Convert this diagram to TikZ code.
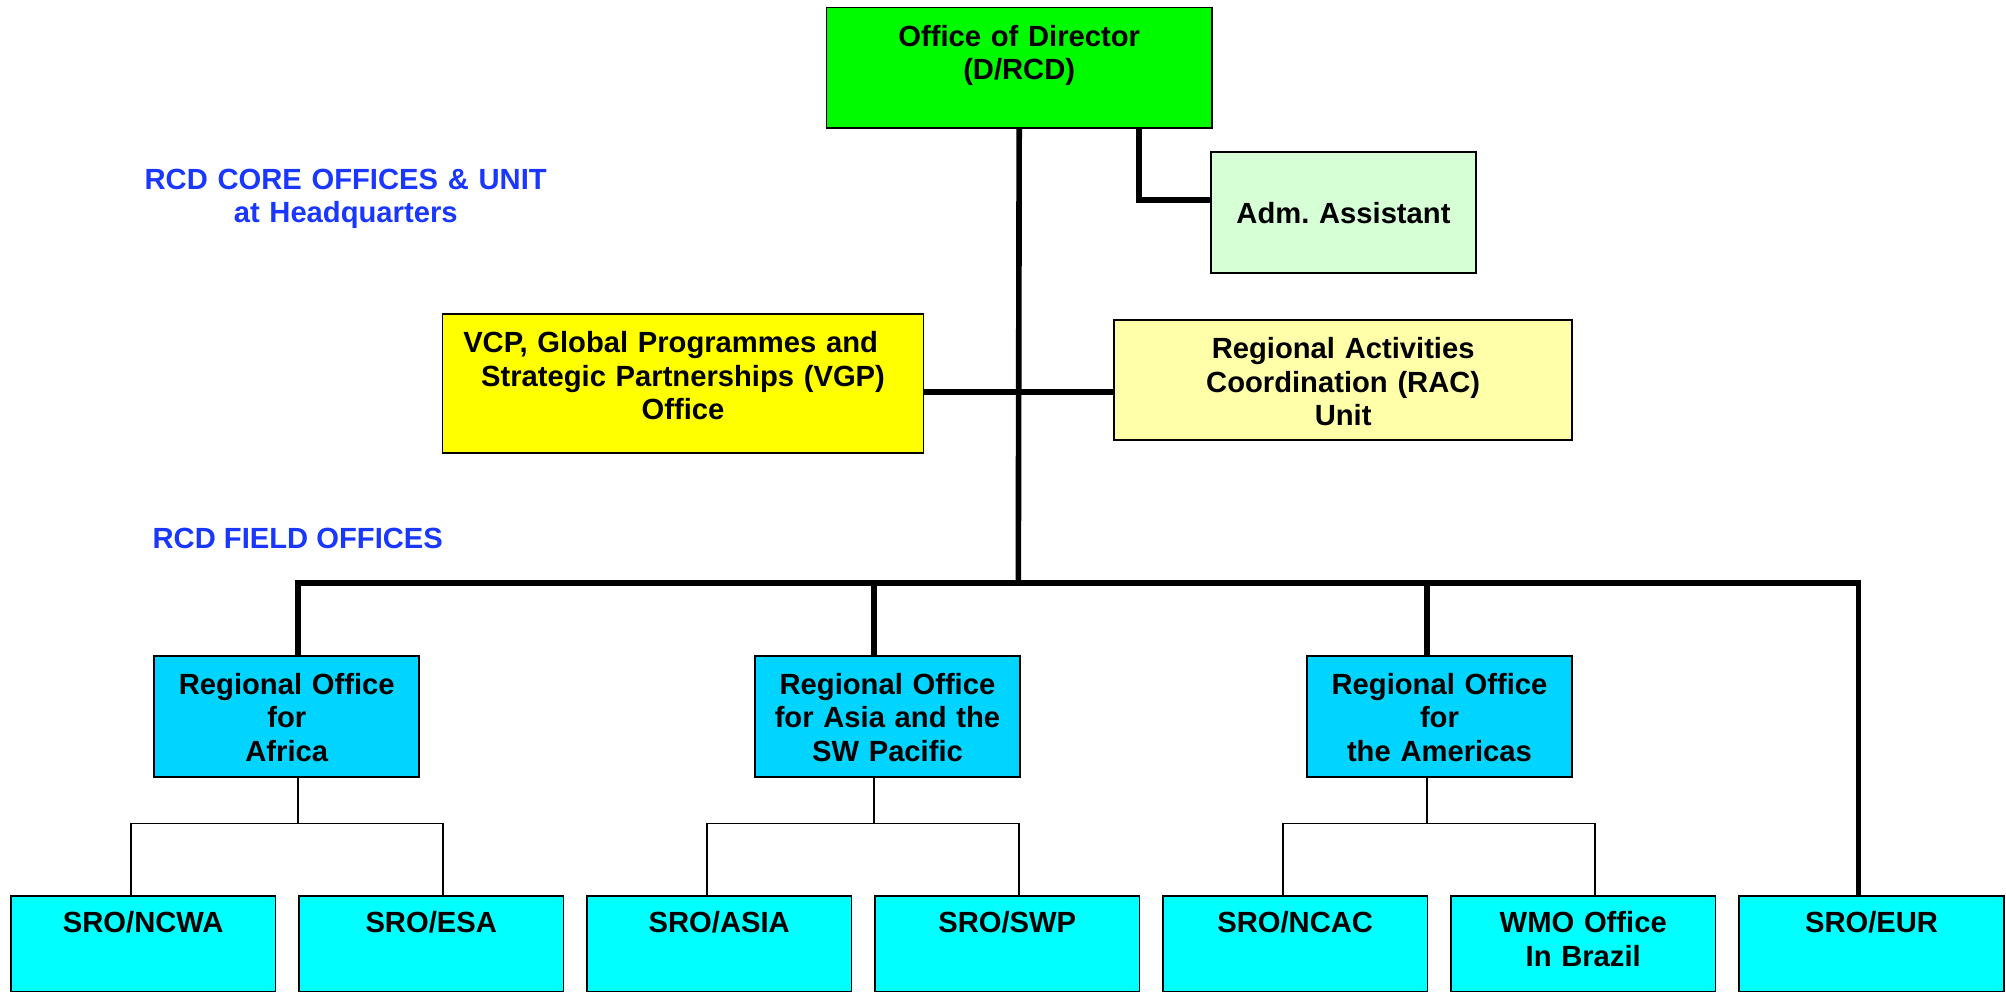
\documentclass[tikz,border=0pt]{standalone}
\usepackage{fontspec}
\setmainfont{Liberation Sans}
\usepackage{tikz}
\definecolor{dirgreen}{RGB}{0,250,0}
\definecolor{admgreen}{RGB}{214,255,214}
\definecolor{vgpyellow}{RGB}{255,255,0}
\definecolor{racyellow}{RGB}{255,255,170}
\definecolor{regcyan}{RGB}{0,212,255}
\definecolor{srocyan}{RGB}{0,255,255}
\definecolor{rcdblue}{RGB}{25,55,255}
\newcommand{\orgfont}{\fontsize{8.3}{9.5}\selectfont\bfseries\frenchspacing}
\tikzset{
  orgbox/.style={draw=black, line width=0.5pt, inner sep=0pt, anchor=north west,
    align=center, font=\orgfont},
  region/.style={orgbox, fill=regcyan, text width=2.65cm, text height=0.38cm, text depth=0.824cm},
  sro/.style={orgbox, fill=srocyan, text width=2.645cm, text height=0.364cm, text depth=0.593cm},
  heading/.style={text=rcdblue, font=\orgfont, align=center, inner sep=0pt},
  trunk/.style={line width=1.6pt},
  branch/.style={line width=0.45pt}
}

\begin{document}
\begin{tikzpicture}[x=0.01cm, y=-0.01cm]
  \useasboundingbox (0,0) rectangle (2006,992);

  %% Headquarters offices
  \node[orgbox, fill=dirgreen, text width=3.85cm, text height=0.39cm, text depth=0.816cm]
    (dir) at (825.7,6.7) {Office of Director\\(D/RCD)};
  \node[orgbox, fill=admgreen, text width=2.65cm, text height=0.717cm, text depth=0.49cm]
    (adm) at (1210,151) {Adm. Assistant};
  \node[orgbox, fill=vgpyellow, text width=4.806cm, text height=0.384cm, text depth=1.0cm]
    (vgp) at (441.7,313.3) {VCP, Global Programmes and\rule{0.85em}{0pt}\\Strategic Partnerships (VGP)\\Office};
  \node[orgbox, fill=racyellow, text width=4.577cm, text height=0.384cm, text depth=0.816cm]
    (rac) at (1113.3,319.3) {Regional Activities\\Coordination (RAC)\\Unit};

  %% Regional offices
  \node[region] (afr)  at (153.3,655.3) {Regional Office\\for\\Africa};
  \node[region] (asia) at (754,655.3)   {Regional Office\\for Asia and the\\SW Pacific};
  \node[region] (amer) at (1306,655.3)  {Regional Office\\for\\the Americas};

  %% Subregional offices
  \node[sro] (ncwa)    at (10,895.3)     {SRO/NCWA};
  \node[sro] (esa)     at (298,895.3)    {SRO/ESA};
  \node[sro] (sroasia) at (586,895.3)    {SRO/ASIA};
  \node[sro] (swp)     at (874,895.3)    {SRO/SWP};
  \node[sro] (ncac)    at (1162,895.3)   {SRO/NCAC};
  \node[sro] (brazil)  at (1450,895.3)   {WMO Office\\In Brazil};
  \node[sro] (eur)     at (1738.3,895.3) {SRO/EUR};

  %% Section headings
  \node[heading, text width=4.5cm, anchor=base] (hqlabel) at (345.7,189.3)
    {RCD CORE OFFICES \& UNIT\\at Headquarters};
  \node[heading, anchor=base] (fieldlabel) at (297.8,548.3) {RCD FIELD OFFICES};

  %% Junction points
  \coordinate (hub)      at (1018.3,391.7);
  \coordinate (bus)      at (1018.3,583.3);
  \coordinate (afrtap)   at (298,583.3);
  \coordinate (asiatap)  at (874,583.3);
  \coordinate (amertap)  at (1426.7,583.3);
  \coordinate (eurtap)   at (1858.5,583.3);
  \coordinate (afrfork)  at (298,823.3);
  \coordinate (asiafork) at (874,823.3);
  \coordinate (amerfork) at (1426.7,823.3);

  %% Thick lines from the Director
  \draw[trunk] (dir.south) -- (bus);
  \draw[trunk] ([xshift=1.2cm]dir.south) |- ([yshift=0.12cm]adm.west);
  \draw[trunk] (vgp.east |- hub) -- (rac.west |- hub);
  \draw[trunk] (afrtap |- afr.north) |- (bus) -| (eurtap |- eur.north);
  \draw[trunk] (asiatap |- asia.north) -- (asiatap);
  \draw[trunk] (amertap |- amer.north) -- (amertap);

  %% Thin lines to the subregional offices
  \draw[branch] (afrfork |- afr.south) -- (afrfork);
  \draw[branch] ([xshift=-1.2mm]ncwa.north) |- (afrfork) -| ([xshift=1.2mm]esa.north);
  \draw[branch] (asiafork |- asia.south) -- (asiafork);
  \draw[branch] ([xshift=-1.2mm]sroasia.north) |- (asiafork) -| ([xshift=1.2mm]swp.north);
  \draw[branch] (amerfork |- amer.south) -- (amerfork);
  \draw[branch] ([xshift=-1.2mm]ncac.north) |- (amerfork) -| ([xshift=1.2mm]brazil.north);
\end{tikzpicture}
\end{document}
